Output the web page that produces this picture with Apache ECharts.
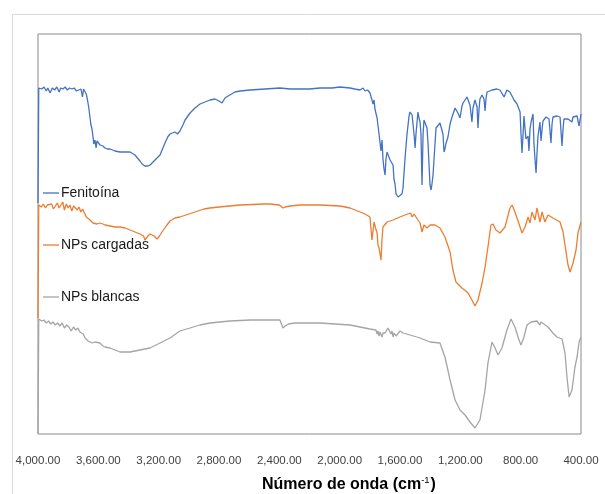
<!DOCTYPE html>
<html>
<head>
<meta charset="utf-8">
<script src="https://cdn.jsdelivr.net/npm/echarts@6.0.0/dist/echarts.min.js"></script>
<style>
html,body{margin:0;padding:0;background:#fff;}
#chart{width:605px;height:494px;}
</style>
</head>
<body>
<div id="chart"></div>
<script>
// Series names
const seriesNames = ['Fenitoína', 'NPs cargadas', 'NPs blancas'];
// x-axis ticks (cm-1)
const xTicks = [4000, 3600, 3200, 2800, 2400, 2000, 1600, 1200, 800, 400];

// [wavenumber, stacked transmittance (a.u.)]
const fenitoina = [
[4000,231],[3995,346],[3990,346],[3975,345],[3960,347],[3945,343],[3935,346],[3920,341],[3905,346],[3890,344],[3875,347],[3860,342],[3850,346],[3835,345],[3820,347],[3805,344],[3790,346],[3775,345],[3760,346],[3745,343],[3730,344],[3715,345],[3705,337],[3698,345],[3688,343],[3680,340],[3672,334],[3665,328],[3658,320],[3650,310],[3642,305],[3636,298],[3630,290],[3622,294],[3615,286],[3609,293],[3600,291],[3589,289],[3570,288],[3556,286],[3540,285],[3523,285],[3490,283],[3456,282],[3423,282],[3390,282],[3357,279],[3344,278],[3324,273],[3310,270],[3291,268],[3271,268],[3257,269],[3244,270],[3224,274],[3191,279],[3158,291],[3140,297],[3125,300],[3112,301],[3092,302],[3075,300],[3059,303],[3039,309],[3025,314],[2992,321],[2959,326],[2926,330],[2893,332],[2860,334],[2827,335],[2800,333],[2780,331],[2760,336],[2740,338],[2694,342],[2661,343],[2594,344],[2495,345],[2396,346],[2329,345],[2263,345],[2200,345],[2130,346],[2050,346],[1998,347],[1931,346],[1900,345],[1865,344],[1845,346],[1832,343],[1815,344],[1799,341],[1786,334],[1779,330],[1772,334],[1766,325],[1752,316],[1739,300],[1726,283],[1719,294],[1713,275],[1706,265],[1699,259],[1693,275],[1686,282],[1680,281],[1666,274],[1660,272],[1646,269],[1640,255],[1633,250],[1626,240],[1620,239],[1613,237],[1600,238],[1587,240],[1580,246],[1567,275],[1554,299],[1540,318],[1534,322],[1520,319],[1514,317],[1507,300],[1500,286],[1494,300],[1481,322],[1474,316],[1467,312],[1461,300],[1454,249],[1447,300],[1441,314],[1434,314],[1421,306],[1414,290],[1401,249],[1394,244],[1388,250],[1381,259],[1368,290],[1361,306],[1355,307],[1335,311],[1322,311],[1315,300],[1308,282],[1302,285],[1296,290],[1282,297],[1268,310],[1255,317],[1235,326],[1216,321],[1202,316],[1189,328],[1182,331],[1169,334],[1156,337],[1136,329],[1123,312],[1116,326],[1103,334],[1089,327],[1083,306],[1076,325],[1070,335],[1056,339],[1043,335],[1036,323],[1030,335],[1023,342],[990,344],[957,345],[937,344],[910,337],[891,344],[871,342],[844,334],[824,330],[804,322],[798,301],[791,281],[784,300],[778,318],[765,295],[751,298],[745,283],[738,305],[731,312],[718,320],[712,291],[705,275],[698,261],[692,280],[685,298],[672,312],[665,293],[658,305],[652,313],[632,317],[612,315],[599,291],[592,310],[586,317],[559,318],[539,317],[526,288],[519,305],[513,315],[486,315],[460,312],[453,317],[426,318],[413,308],[400,320]
];

const npsCargadas = [
[4000,116],[3995,229],[3990,229],[3978,227],[3965,230],[3950,226],[3938,229],[3925,227],[3910,230],[3898,225],[3885,228],[3872,231],[3860,226],[3848,229],[3836,232],[3825,224],[3812,230],[3800,226],[3788,229],[3776,223],[3764,228],[3752,226],[3740,224],[3728,227],[3716,222],[3704,225],[3692,221],[3680,217],[3668,219],[3655,214],[3645,216],[3635,211],[3622,213],[3609,210],[3600,212],[3589,211],[3570,210],[3556,209],[3523,208],[3490,207],[3456,207],[3423,206],[3390,204],[3357,202],[3324,200],[3300,198],[3291,194],[3280,196],[3271,198],[3257,200],[3244,201],[3230,198],[3211,195],[3195,198],[3178,202],[3150,208],[3125,213],[3092,216],[3059,217],[3000,220],[2959,222],[2900,225],[2860,226],[2800,227],[2661,229],[2500,230],[2462,230],[2400,229],[2376,226],[2362,227],[2329,228],[2263,229],[2130,229],[1998,228],[1931,226],[1865,222],[1832,220],[1799,217],[1786,194],[1772,212],[1760,205],[1752,201],[1746,189],[1739,186],[1726,174],[1719,195],[1713,207],[1686,212],[1646,214],[1600,217],[1567,219],[1530,221],[1520,217],[1507,220],[1481,214],[1467,211],[1454,202],[1441,209],[1421,206],[1414,204],[1401,209],[1368,209],[1335,206],[1302,197],[1268,182],[1249,164],[1229,152],[1189,146],[1149,141],[1123,134],[1103,128],[1083,134],[1056,151],[1036,167],[1017,187],[997,209],[983,210],[964,204],[937,201],[904,207],[871,226],[857,229],[838,222],[804,207],[791,201],[771,207],[751,217],[738,211],[725,222],[705,214],[692,226],[672,212],[658,222],[639,212],[619,219],[586,216],[539,212],[519,202],[499,182],[486,169],[473,162],[453,171],[433,184],[420,201],[400,212]
];

const npsBlancas = [
[4000,0],[3995,115],[3990,115],[3975,113],[3960,114],[3945,111],[3930,113],[3915,110],[3900,112],[3885,109],[3870,111],[3855,108],[3840,111],[3825,106],[3810,109],[3795,107],[3780,103],[3765,107],[3750,104],[3735,106],[3722,102],[3710,104],[3700,100],[3688,96],[3675,98],[3668,93],[3655,94],[3640,91],[3622,92],[3609,90],[3589,91],[3570,88],[3556,87],[3523,86],[3490,84],[3456,82],[3423,82],[3390,82],[3357,83],[3324,84],[3257,86],[3191,91],[3125,96],[3059,103],[2992,106],[2926,109],[2860,111],[2727,113],[2594,114],[2396,114],[2385,112],[2376,106],[2362,108],[2340,110],[2329,109],[2296,111],[2130,111],[1931,109],[1832,106],[1800,105],[1760,104],[1752,100],[1746,103],[1739,98],[1733,102],[1726,101],[1719,97],[1713,101],[1706,102],[1699,101],[1690,103],[1680,106],[1670,104],[1660,100],[1653,103],[1646,97],[1640,101],[1633,100],[1626,98],[1620,100],[1600,103],[1580,101],[1534,99],[1467,96],[1400,92],[1335,91],[1302,77],[1268,54],[1235,34],[1202,24],[1169,19],[1136,12],[1103,6],[1070,14],[1036,44],[1017,71],[990,92],[970,86],[950,79],[924,86],[891,104],[864,115],[838,107],[811,94],[798,89],[778,97],[758,109],[731,112],[692,113],[680,113],[672,109],[665,112],[619,107],[586,101],[559,97],[526,95],[506,81],[493,57],[479,37],[460,44],[440,67],[426,77],[413,92],[400,97]
];

const colors = ['#4472C4', '#ED7D31', '#A5A5A5'];
const legendCenters = [194, 246, 298];

function fmt(v) {
  const s = Math.round(v).toString().replace(/\B(?=(\d{3})+(?!\d))/g, ',');
  return s + '.00';
}

const chart = echarts.init(document.getElementById('chart'), null, {renderer: 'canvas'});
const allData = [fenitoina, npsCargadas, npsBlancas];

chart.setOption({
  animation: false,
  backgroundColor: '#ffffff',
  grid: {left: 38, right: 24, top: 34, bottom: 60, show: true, borderColor: '#8a8a8a', borderWidth: 1, backgroundColor: 'transparent'},
  xAxis: {
    type: 'value', inverse: true, min: 400, max: 4000, interval: 400,
    axisLine: {show: false}, axisTick: {show: false}, splitLine: {show: false},
    axisLabel: {formatter: fmt, fontFamily: 'Liberation Sans, Arial', fontSize: 11.5, color: '#404040', margin: 21,
      showMinLabel: true, showMaxLabel: true}
  },
  yAxis: {
    type: 'value', min: 0, max: 400,
    axisLine: {show: false}, axisTick: {show: false}, axisLabel: {show: false}, splitLine: {show: false}
  },
  legend: seriesNames.map((n, i) => ({
    data: [{name: n, icon: 'rect'}],
    left: 43, top: legendCenters[i] - 8, padding: 0,
    itemWidth: 16, itemHeight: 1.3, itemGap: 2,
    textStyle: {fontFamily: 'Liberation Sans, Arial', fontSize: 14, color: '#1a1a1a', padding: [0, 0, 0, -3]},
    selectedMode: false
  })),
  series: allData.map((d, i) => ({
    name: seriesNames[i], type: 'line', data: d, symbol: 'none', smooth: false,
    lineStyle: {color: colors[i], width: 1.3}, itemStyle: {color: colors[i]},
    z: 3 - i
  })),
  graphic: [
    {type: 'rect', left: 10, top: 12, silent: true, z: -10,
     shape: {width: 600, height: 490}, style: {fill: 'none', stroke: '#d9d9d9', lineWidth: 1}},
    {type: 'text', left: 262, top: 475, silent: true,
     style: {
       text: '{a|Número de onda (cm}{b|-1}{a|)}',
       rich: {
         a: {fontFamily: 'Liberation Sans, Arial', fontSize: 16, fontWeight: 'bold', fill: '#000', lineHeight: 19},
         b: {fontFamily: 'Liberation Sans, Arial', fontSize: 9.5, fill: '#000', verticalAlign: 'top', lineHeight: 19, padding: [0, 1, 8, 0]}
       }
     }}
  ]
});
</script>
</body>
</html>
